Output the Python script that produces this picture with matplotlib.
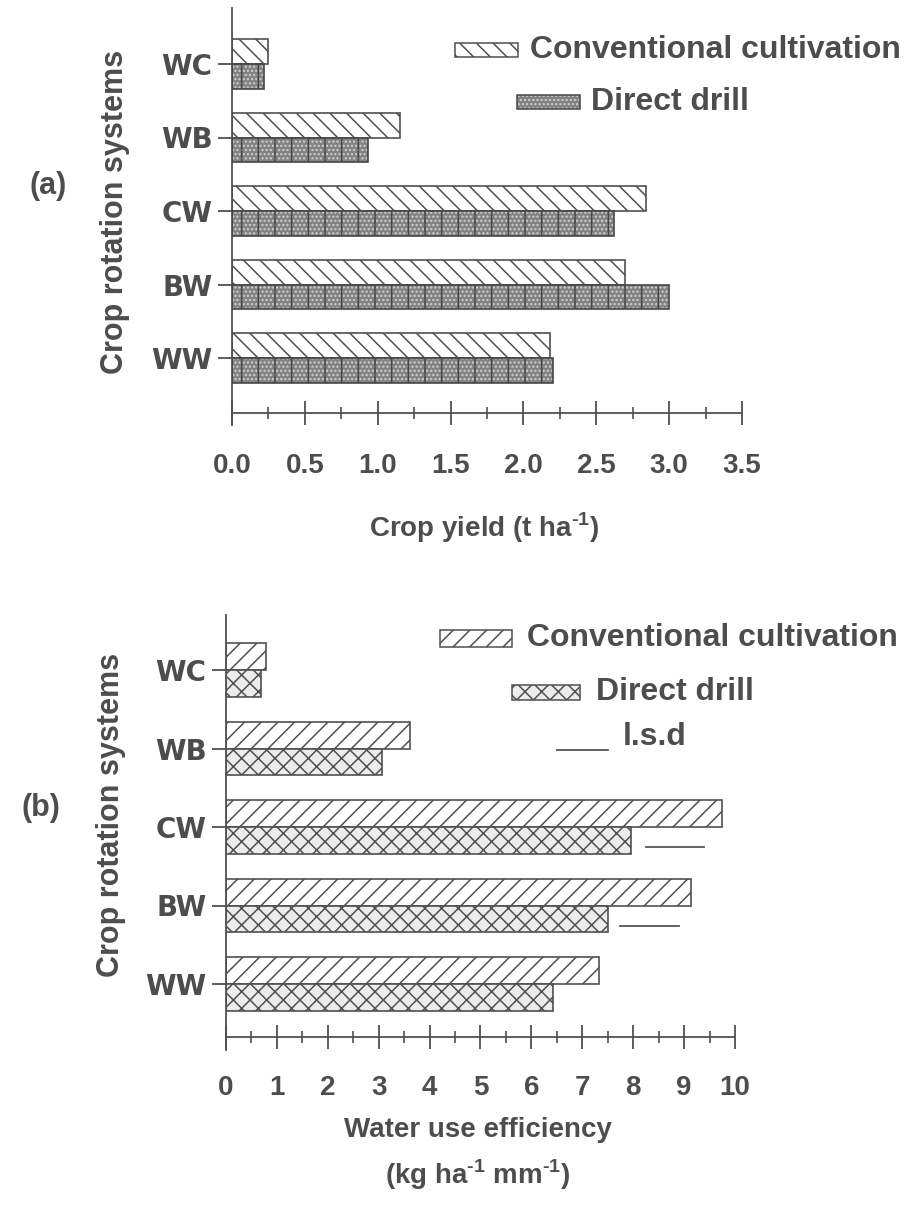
import matplotlib
matplotlib.use("Agg")
import matplotlib.pyplot as plt
import numpy as np
from matplotlib.patches import Rectangle
from matplotlib.lines import Line2D

# crop rotation systems, bottom to top
systems = ["WW", "BW", "CW", "WB", "WC"]

# (a) crop yield, t/ha
yield_cc = [2.18, 2.70, 2.84, 1.15, 0.25]
yield_dd = [2.20, 3.00, 2.62, 0.93, 0.22]
yield_ticks = [0.0, 0.5, 1.0, 1.5, 2.0, 2.5, 3.0, 3.5]

# (b) water use efficiency, kg/ha/mm
wue_cc = [7.32, 9.14, 9.75, 3.62, 0.78]
wue_dd = [6.43, 7.51, 7.95, 3.06, 0.68]
wue_ticks = list(range(0, 11))

# l.s.d bars drawn beside the direct drill bars
lsd_systems = ["CW", "BW"]
lsd_start = [8.25, 7.75]
lsd_value = [1.15, 1.15]

W, H = 908, 1208
TXT = "#4d4d4d"
LN = "#505050"

plt.rcParams["font.family"] = ["Liberation Sans", "DejaVu Sans"]
plt.rcParams["font.weight"] = "bold"
plt.rcParams["mathtext.fontset"] = "custom"
plt.rcParams["mathtext.rm"] = "Liberation Sans:bold"
plt.rcParams["mathtext.bf"] = "Liberation Sans:bold"
plt.rcParams["hatch.linewidth"] = 1.1

fig = plt.figure(figsize=(W / 100, H / 100), dpi=100)


def rect(left, right, top, bottom):
    return [left / W, 1 - bottom / H, (right - left) / W, (bottom - top) / H]


def fx(x):
    return x / W


def fy(y):
    return 1 - y / H


def style_axis(ax, xmax, axis_y, ticks, minor, labels, pad):
    for s in ["top", "right"]:
        ax.spines[s].set_visible(False)
    ax.spines["bottom"].set_position(("data", axis_y))
    for s in ["left", "bottom"]:
        ax.spines[s].set_color(LN)
        ax.spines[s].set_linewidth(1.3)
    ax.set_xlim(0, xmax)
    ax.set_xticks(ticks)
    ax.set_xticklabels(labels)
    ax.set_xticks(minor, minor=True)
    ax.tick_params(axis="x", which="major", direction="inout", length=17,
                   width=1.3, color=LN, pad=pad, labelsize=20, labelcolor=TXT)
    ax.tick_params(axis="x", which="minor", direction="inout", length=8,
                   width=1.2, color=LN)
    ax.set_yticks(np.arange(len(systems)))
    ax.set_yticklabels(systems, family="DejaVu Sans", fontweight="bold")
    ax.tick_params(axis="y", direction="out", length=10, width=1.3, color=LN,
                   pad=4, labelsize=20, labelcolor=TXT)
    ax.patch.set_alpha(0)


pos = np.arange(len(systems))
h = 0.34

# ---------- (a) crop yield ----------
ax1 = fig.add_axes(rect(232, 742, 8, 425))
ax1.set_ylim(-(425 - 358) / 73.5, 4 + (64 - 8) / 73.5)
ax1.barh(pos + h / 2, yield_cc, height=h, color="white", edgecolor=LN,
         hatch="\\\\", lw=1.2, zorder=2)
ax1.barh(pos - h / 2, yield_dd, height=h, color="#828282", edgecolor="#cfcfcf",
         hatch="....", lw=0, zorder=2)
ax1.barh(pos - h / 2, yield_dd, height=h, fill=False, edgecolor="#454545",
         hatch="|", lw=1.2, zorder=3)
style_axis(ax1, 3.5, -(413 - 358) / 73.5, yield_ticks,
           np.arange(0.25, 3.5, 0.5), ["%.1f" % t for t in yield_ticks], 20)

# ---------- (b) water use efficiency ----------
ax2 = fig.add_axes(rect(226, 735, 615, 1050))
ax2.set_ylim(-(1050 - 984) / 78.5, 4 + (670 - 615) / 78.5)
ax2.barh(pos + h / 2, wue_cc, height=h, color="white", edgecolor=LN,
         hatch="//", lw=1.2, zorder=2)
ax2.barh(pos - h / 2, wue_dd, height=h, color="#ececec", edgecolor=LN,
         hatch="xx", lw=1.2, zorder=2)
for s, x0, v in zip(lsd_systems, lsd_start, lsd_value):
    yy = systems.index(s) - 0.26
    ax2.plot([x0, x0 + v], [yy, yy], color="#555555", lw=1.3, zorder=3)
style_axis(ax2, 10, -(1037 - 984) / 78.5, wue_ticks,
           np.arange(0.5, 10, 1.0), [str(t) for t in wue_ticks], 19)

# axis titles and panel letters
fig.text(fx(115), fy(212), "Crop rotation systems", rotation=90, ha="center",
         va="center", fontsize=22, color=TXT)
fig.text(fx(111), fy(815), "Crop rotation systems", rotation=90, ha="center",
         va="center", fontsize=22, color=TXT)
fig.text(fx(48), fy(186), "(a)", ha="center", va="center", fontsize=22, color=TXT)
fig.text(fx(41), fy(808), "(b)", ha="center", va="center", fontsize=22, color=TXT)
fig.text(fx(484), fy(528), r"Crop yield (t ha$^{\text{-1}}$)", ha="center",
         va="center", fontsize=20, color=TXT)
fig.text(fx(478), fy(1130), "Water use efficiency", ha="center", va="center",
         fontsize=20, color=TXT)
fig.text(fx(478), fy(1175), r"(kg ha$^{\text{-1}}$ mm$^{\text{-1}}$)",
         ha="center", va="center", fontsize=20, color=TXT)


# legends
def box(x0, x1, y0, y1, **kw):
    fig.add_artist(Rectangle((fx(x0), fy(y1)), fx(x1) - fx(x0), fy(y0) - fy(y1),
                             transform=fig.transFigure, **kw))


box(455, 518, 43, 57, facecolor="white", edgecolor=LN, hatch="\\\\", lw=1.1)
fig.text(fx(530), fy(50), "Conventional cultivation", va="center", fontsize=23, color=TXT)
box(517, 580, 95, 109, facecolor="#828282", edgecolor="#cfcfcf", hatch="....", lw=0)
box(517, 580, 95, 109, fill=False, edgecolor="#454545", lw=1.1)
fig.text(fx(591), fy(102), "Direct drill", va="center", fontsize=23, color=TXT)

box(440, 512, 630, 647, facecolor="white", edgecolor=LN, hatch="//", lw=1.1)
fig.text(fx(527), fy(638), "Conventional cultivation", va="center", fontsize=23, color=TXT)
box(512, 580, 685, 700, facecolor="#ececec", edgecolor=LN, hatch="xx", lw=1.1)
fig.text(fx(596), fy(692), "Direct drill", va="center", fontsize=23, color=TXT)
fig.add_artist(Line2D([fx(557), fx(608)], [fy(750), fy(750)], color="#555555",
                      lw=1.3, transform=fig.transFigure))
fig.text(fx(623), fy(737), "l.s.d", va="center", fontsize=23, color=TXT)

fig.savefig("out.png", dpi=100, facecolor="white")
